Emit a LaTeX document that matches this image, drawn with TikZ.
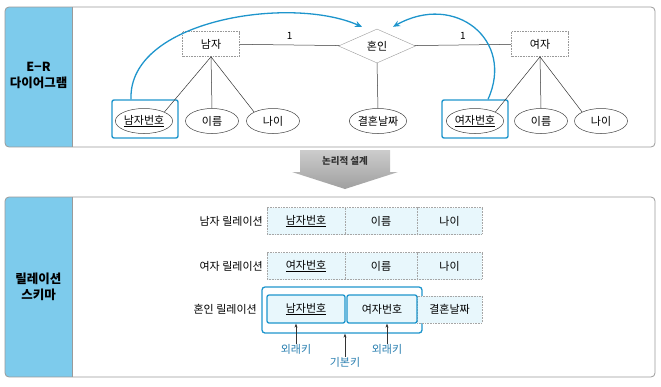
\documentclass[tikz,border=0pt]{standalone}
\usepackage{fontspec}
\setmainfont{Noto Sans CJK KR}
\usetikzlibrary{shapes.geometric,arrows.meta}
\definecolor{side}{HTML}{7DCBEC}
\definecolor{keyblue}{HTML}{1E95CC}
\definecolor{labblue}{HTML}{2A7FB0}
\definecolor{cellfill}{HTML}{E8F7FC}
\definecolor{frame}{HTML}{9A9A9A}
\tikzset{
  panel/.style={draw=frame, line width=0.8pt, rounded corners=4pt},
  entity/.style={draw=gray!80, dash pattern=on 1pt off 0.6pt, line width=0.6pt, minimum width=57pt, minimum height=25pt, inner sep=0pt, font=\fontsize{11}{13}\selectfont},
  rel/.style={draw=gray!80, diamond, aspect=2.3, minimum width=77pt, minimum height=34pt, inner sep=0pt, font=\fontsize{11}{13}\selectfont},
  attr/.style={draw=gray!50!black, ellipse, line width=0.5pt, minimum width=53pt, minimum height=25pt, inner sep=0pt, font=\fontsize{11}{13}\selectfont},
  hibox/.style={draw=keyblue, line width=1.4pt, rounded corners=2pt, minimum width=66pt, minimum height=38pt, inner sep=0pt},
  link/.style={draw=gray!40!black, line width=0.5pt},
  curvearrow/.style={draw=keyblue, line width=1.3pt, -{Stealth[length=7pt,width=6pt]}},
  cell/.style={draw=gray!70, dash pattern=on 1pt off 0.6pt, fill=cellfill, line width=0.6pt, minimum height=27pt, inner sep=0pt, font=\fontsize{11}{13}\selectfont},
  keycell/.style={draw=keyblue, line width=1.3pt, fill=cellfill, rounded corners=2pt, minimum height=28pt, inner sep=0pt, font=\fontsize{11}{13}\selectfont},
  rlabel/.style={anchor=east, inner sep=0pt, font=\fontsize{11}{13}\selectfont},
  sidelabel/.style={align=center, font=\bfseries\fontsize{12.5}{16}\selectfont, inner sep=0pt},
  keylab/.style={text=labblue, inner sep=0pt, font=\fontsize{11}{13}\selectfont},
  keyarrow/.style={draw=black!80, line width=0.6pt, -{Stealth[length=4pt,width=3pt]}},
  one/.style={inner sep=0pt, font=\fontsize{10}{12}\selectfont}
}
\begin{document}
\begin{tikzpicture}[x=1pt,y=-1pt]
\useasboundingbox (0,0) rectangle (661,386);
% ---------- top panel ----------
\begin{scope}
  \clip[rounded corners=4pt] (5,7) rectangle (655,147);
  \fill[side] (5,7) rectangle (72,147);
\end{scope}
\draw[frame, line width=0.6pt] (72,7) -- (72,147);
\draw[panel] (5,7) rectangle (655,147);
\node[sidelabel] (erlab) at (38.5,75) {E−R\\다이어그램};

\node[entity] (man) at (211,44) {남자};
\node[rel] (mar) at (377,46) {혼인};
\node[entity] (woman) at (540,44) {여자};

\draw[link] (man) -- node[one, above=5pt, pos=0.5] (one1) {1} (mar);
\draw[link] (mar) -- node[one, above=5pt, pos=0.5] (one2) {1} (woman);

\node[hibox] (hbm) at (145,119) {};
\node[hibox] (hbw) at (475,119) {};
\node[attr] (mno) at (144,121) {\underline{남자번호}};
\node[attr] (mname) at (212,121) {이름};
\node[attr] (mage) at (273,121) {나이};
\node[attr] (mdate) at (378,121) {결혼날짜};
\node[attr] (wno) at (475,121) {\underline{여자번호}};
\node[attr] (wname) at (541,121) {이름};
\node[attr] (wage) at (601,121) {나이};

\draw[link] (man.south) -- (mno.north east);
\draw[link] (man.south) -- (mname.north);
\draw[link] (man.south) -- (mage.north west);
\draw[link] (woman.south) -- (wno.north east);
\draw[link] (woman.south) -- (wname.north);
\draw[link] (woman.south) -- (wage.north west);
\draw[link] (mar.south) -- (mdate.north);

\coordinate (cl) at ([xshift=-14pt]hbm.north);
\coordinate (cr) at ([xshift=13pt]hbw.north);
\draw[curvearrow] (cl) .. controls (128,20) and (290,-5) .. ([xshift=-15pt,yshift=2pt]mar.north);
\draw[curvearrow] (cr) .. controls (515,40) and (455,-8) .. ([xshift=16pt,yshift=2pt]mar.north);

% ---------- arrow ----------
\shade[top color=gray!40, bottom color=gray!75, draw=none]
  (300,150) -- (390,150) -- (390,172) -- (398,172) -- (345,189) -- (292,172) -- (300,172) -- cycle;
\node[inner sep=0pt, font=\bfseries\fontsize{9.5}{11}\selectfont, text=black!80] (design) at (345,161) {논리적 설계};

% ---------- bottom panel ----------
\begin{scope}
  \clip[rounded corners=4pt] (5,197) rectangle (655,377);
  \fill[side] (5,197) rectangle (72,377);
\end{scope}
\draw[frame, line width=0.6pt] (72,197) -- (72,377);
\draw[panel] (5,197) rectangle (655,377);
\node[sidelabel] (rslab) at (38.5,287) {릴레이션\\스키마};

% 남자 릴레이션
\node[rlabel] (r1) at (263,221) {남자 릴레이션};
\node[cell, minimum width=78pt] (r1a) at (306,221) {\underline{남자번호}};
\node[cell, minimum width=72pt] (r1b) at (381,221) {이름};
\node[cell, minimum width=65pt] (r1c) at (449.5,221) {나이};
% 여자 릴레이션
\node[rlabel] (r2) at (263,266) {여자 릴레이션};
\node[cell, minimum width=78pt] (r2a) at (306,266) {\underline{여자번호}};
\node[cell, minimum width=72pt] (r2b) at (381,266) {이름};
\node[cell, minimum width=65pt] (r2c) at (449.5,266) {나이};
% 혼인 릴레이션
\node[rlabel] (r3) at (257,309) {혼인 릴레이션};
\node[draw=keyblue, line width=1.3pt, rounded corners=3pt, minimum width=160pt, minimum height=46pt, inner sep=0pt] (pk) at (342,310) {};
\node[cell, minimum width=65pt] (r3c) at (449.5,309.5) {결혼날짜};
\node[keycell, minimum width=78pt] (r3a) at (306,309) {\underline{남자번호}};
\node[keycell, minimum width=70pt] (r3b) at (382,309) {여자번호};

\node[keylab] (fk1) at (296,349) {외래키};
\node[keylab] (pkl) at (345,362) {기본키};
\node[keylab] (fk2) at (387,349) {외래키};
\draw[keyarrow] (fk1.north) -- (fk1.north |- r3a.south);
\draw[keyarrow] (pkl.north) -- (pkl.north |- pk.south);
\draw[keyarrow] (fk2.north) -- (fk2.north |- r3b.south);
\end{tikzpicture}
\end{document}
